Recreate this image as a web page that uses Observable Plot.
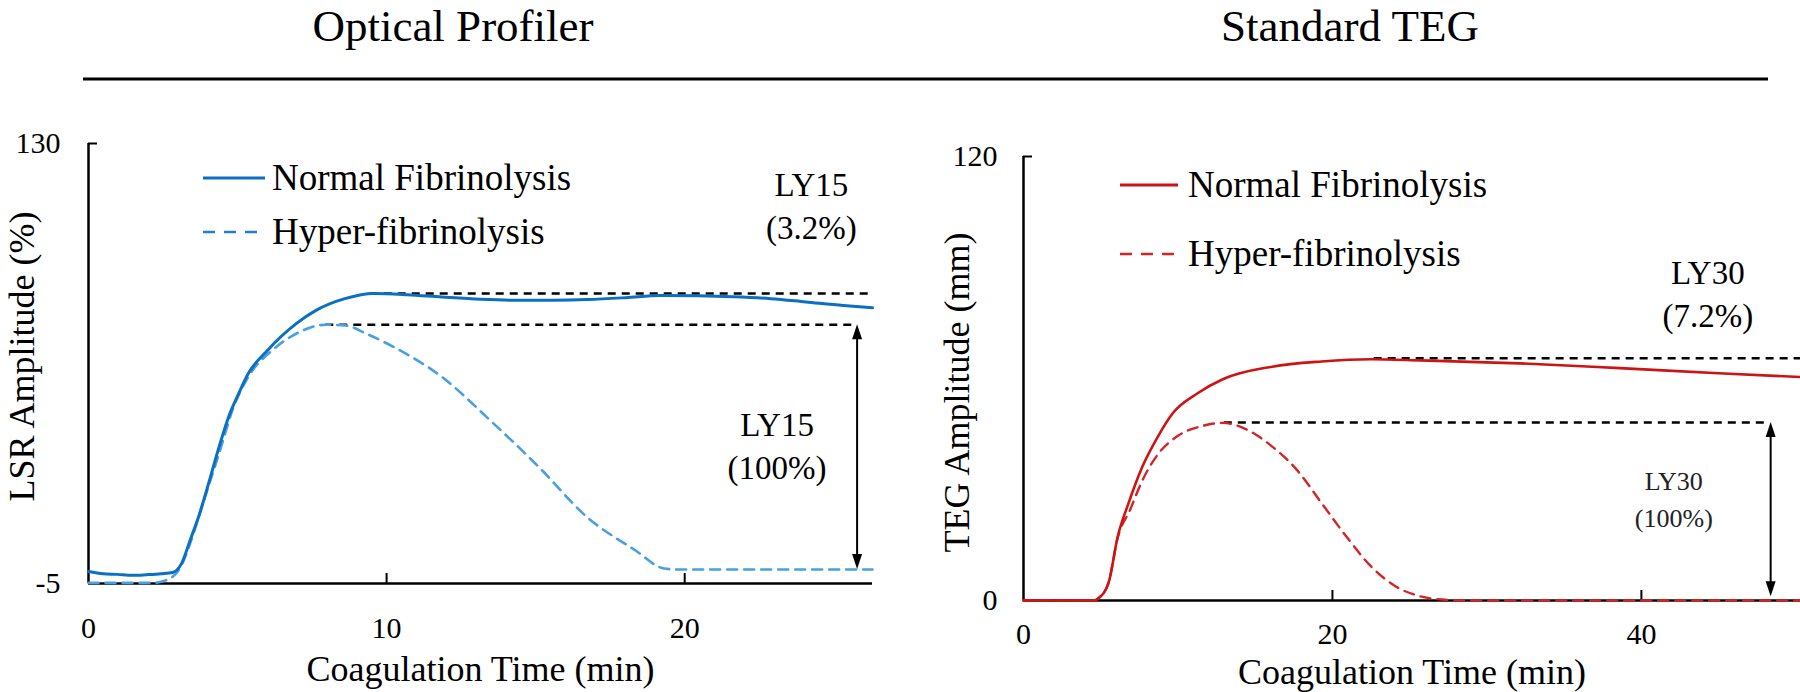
<!DOCTYPE html>
<html><head><meta charset="utf-8">
<script src="https://cdn.jsdelivr.net/npm/d3@7"></script>
<script src="https://cdn.jsdelivr.net/npm/@observablehq/plot@0.6"></script>
<style>
html,body{margin:0;padding:0;background:#fff;}
#root{position:relative;width:1800px;height:692px;overflow:hidden;font-family:"Liberation Serif","Times New Roman",serif;}
#root > svg{position:absolute;top:0;}
</style></head><body><div id="root"></div>
<script>
// ---------- text ----------
const panelTitles = ["Optical Profiler", "Standard TEG"];
const xLabel = "Coagulation Time (min)";
const opYLabel = "LSR Amplitude (%)";
const tegYLabel = "TEG Amplitude (mm)";
const seriesNames = ["Normal Fibrinolysis", "Hyper-fibrinolysis"];

// ---------- axes ----------
const opXDomain = [0, 26.3], opYDomain = [-5, 130];
const opXTicks = [0, 10, 20], opYTicks = [-5, 130];
const tegXDomain = [0, 50.3], tegYDomain = [0, 120];
const tegXTicks = [0, 20, 40], tegYTicks = [0, 120];

// ---------- Optical profiler (LSR amplitude, %) ----------
const opNormalT = [0, 0.49, 0.97, 1.46, 1.95, 2.44, 2.82, 3.12, 3.41, 3.73, 4.06, 4.38, 4.7, 5.04, 5.36, 6.01, 6.98, 7.63, 8.6, 9.57, 10.7, 11.85, 13.15, 14.29, 15.58, 16.75, 18.02, 19.19, 20.45, 21.62, 22.89, 24.06, 25.32, 26.3];
const opNormalV = [-1.3, -2.0, -2.2, -2.5, -2.3, -2.0, -1.6, 1.1, 8.3, 16.5, 26.7, 36.9, 46.1, 53.3, 59.4, 66.6, 74.8, 78.8, 82.4, 84, 83.6, 82.9, 82.2, 81.9, 81.9, 82.1, 82.7, 83.4, 83.3, 83, 82.4, 81.4, 80.3, 79.6];
const opHyperT = [0, 2.14, 2.6, 3.09, 3.41, 3.73, 4.38, 4.87, 5.36, 6.17, 6.98, 7.96, 8.6, 9.35, 10.23, 11.85, 13.47, 15.1, 16.72, 18.34, 19.31, 19.77, 26.3];
const opHyperV = [-4.8, -4.8, -4, 0.1, 7.3, 16.5, 34.9, 49.2, 58.4, 66.6, 71.7, 74.4, 74.2, 71.5, 67.6, 58.4, 45.1, 30.8, 15.4, 5.2, -0.4, -0.7, -0.7];
const opRefStart = [9.45, 7.96], opRefEnd = [26.3, 25.8], opRefLevel = [84, 74.4];
const opArrowT = [25.8], opArrowTop = [74.4], opArrowBottom = [-0.7];
const opNoteText = ["LY15\n(3.2%)", "LY15\n(100%)"], opNoteT = [24.25, 23.1], opNoteV = [111.5, 37.8];

// ---------- Standard TEG (amplitude, mm) ----------
const tegNormalT = [0, 4.6, 4.85, 5.5, 6.1, 6.8, 7.7, 8.7, 9.66, 11.27, 12.9, 16.1, 19.3, 22.5, 25.7, 32.1, 38.6, 45, 50.3];
const tegNormalV = [0, 0, 0.6, 4.7, 17.3, 26.3, 36.2, 44.3, 50.6, 56, 59.8, 63.2, 64.6, 65.2, 64.9, 64.1, 62.8, 61.4, 60.4];
const tegHyperT = [0, 4.6, 4.85, 5.5, 6.1, 6.9, 7.7, 8.7, 10, 11.6, 12.9, 14.5, 16.1, 17.7, 19.3, 20.9, 22.5, 24.1, 25.7, 27.3, 28.5, 50.3];
const tegHyperV = [0, 0, 0.6, 4.7, 17.0, 24.5, 32.5, 39.5, 44.5, 47.2, 48.0, 46.1, 41.6, 35.3, 26.3, 17.3, 9.2, 3.8, 1.1, 0.2, 0, 0];
const tegRefStart = [22.7, 13], tegRefEnd = [50.3, 48.3], tegRefLevel = [65.5, 48.1];
const tegArrowT = [48.4], tegArrowTop = [48.1], tegArrowBottom = [1];
const tegBigNoteText = ["LY30\n(7.2%)"], tegBigNoteT = [44.3], tegBigNoteV = [83.5];
const tegSmallNoteText = ["LY30\n(100%)"], tegSmallNoteT = [42.1], tegSmallNoteV = [28];

// ---------- helpers ----------
const pts = (T, V) => T.map((t, i) => ({t, v: V[i]}));
const refs = (S, E, L) => S.map((s, i) => ({t1: s, t2: E[i], v: L[i]}));
const notes = (S, T, V) => S.map((s, i) => ({label: s, t: T[i], v: V[i]}));
const arrows = (T, A, B) => T.map((t, i) => ({t, top: A[i], bottom: B[i]}));

function arrowMark(data) {
  return (index, scales) => {
    const g = d3.create("svg:g");
    for (const d of data) {
      const x = scales.x(d.t), y1 = scales.y(d.top), y2 = scales.y(d.bottom);
      const L = 15, W = 5;
      g.append("line").attr("x1", x).attr("x2", x).attr("y1", y1 + L - 2).attr("y2", y2 - L + 2)
        .attr("stroke", "black").attr("stroke-width", 2);
      g.append("path").attr("d", `M${x},${y1}L${x - W},${y1 + L}L${x + W},${y1 + L}Z`).attr("fill", "black");
      g.append("path").attr("d", `M${x},${y2}L${x - W},${y2 - L}L${x + W},${y2 - L}Z`).attr("fill", "black");
    }
    return g.node();
  };
}

const FONT = "Liberation Serif, Times New Roman, serif";
const baseStyle = {fontFamily: FONT, background: "transparent", overflow: "visible", color: "black"};

function axesMarks(xDomain, yDomain, xTicks, yTicks, xPad, yPad) {
  return [
    Plot.axisX({ticks: xTicks, tickSize: 0, tickPadding: xPad, fontSize: 30, label: null, tickFormat: d => String(d)}),
    Plot.axisY({ticks: yTicks, tickSize: 0, tickPadding: yPad, fontSize: 30, label: null, tickFormat: d => String(d)}),
    Plot.ruleX([xDomain[0]], {stroke: "black", strokeWidth: 2.5}),
    Plot.ruleY([yDomain[0]], {stroke: "black", strokeWidth: 2.5}),
    Plot.ruleX(xTicks.slice(1), {y1: yDomain[0], y2: yDomain[0], insetTop: -10, stroke: "black", strokeWidth: 2}),
    Plot.ruleY([yDomain[1]], {x1: xDomain[0], x2: xDomain[0], insetRight: -9, stroke: "black", strokeWidth: 2})
  ];
}

function labelMarks(yLabel, yDx, yDy, xDy) {
  return [
    Plot.text([yLabel], {frameAnchor: "left", dx: yDx, dy: yDy, rotate: -90, text: d => d,
      textAnchor: "middle", lineAnchor: "middle", fontSize: 36, fill: "black"}),
    Plot.text([xLabel], {frameAnchor: "bottom", dy: xDy, text: d => d,
      textAnchor: "middle", lineAnchor: "middle", fontSize: 36, fill: "black"})
  ];
}

// ---------- left panel ----------
const left = Plot.plot({
  width: 900, height: 692,
  marginLeft: 88, marginRight: 28, marginTop: 143, marginBottom: 109,
  x: {domain: opXDomain}, y: {domain: opYDomain},
  style: baseStyle,
  marks: [
    ...axesMarks(opXDomain, opYDomain, opXTicks, opYTicks, 33, 28),
    Plot.ruleY(refs(opRefStart, opRefEnd, opRefLevel), {y: "v", x1: "t1", x2: "t2", stroke: "black", strokeWidth: 2.5, strokeDasharray: "8,6"}),
    Plot.line(pts(opHyperT, opHyperV), {x: "t", y: "v", stroke: "#4a9fe0", strokeWidth: 2.6, strokeDasharray: "10,7", curve: "monotone-x"}),
    Plot.line(pts(opNormalT, opNormalV), {x: "t", y: "v", stroke: "#0b6fc2", strokeWidth: 3, curve: "monotone-x"}),
    arrowMark(arrows(opArrowT, opArrowTop, opArrowBottom)),
    Plot.text(notes(opNoteText, opNoteT, opNoteV), {x: "t", y: "v", text: "label", fontSize: 33, lineHeight: 1.3, fill: "black"}),
    ...labelMarks(opYLabel, -66, -7, 86)
  ]
});
left.style.left = "0px";

// ---------- right panel ----------
const right = Plot.plot({
  width: 900, height: 692,
  marginLeft: 123, marginRight: 0, marginTop: 156, marginBottom: 92,
  x: {domain: tegXDomain}, y: {domain: tegYDomain},
  style: baseStyle,
  marks: [
    ...axesMarks(tegXDomain, tegYDomain, tegXTicks, tegYTicks, 22, 26),
    Plot.ruleY(refs(tegRefStart, tegRefEnd, tegRefLevel), {y: "v", x1: "t1", x2: "t2", stroke: "black", strokeWidth: 2.5, strokeDasharray: "8,6"}),
    Plot.line(pts(tegHyperT, tegHyperV), {x: "t", y: "v", stroke: "#d42426", strokeWidth: 2.4, strokeDasharray: "10,7", curve: "monotone-x"}),
    Plot.line(pts(tegNormalT, tegNormalV), {x: "t", y: "v", stroke: "#cc1414", strokeWidth: 2.6, curve: "monotone-x"}),
    arrowMark(arrows(tegArrowT, tegArrowTop, tegArrowBottom)),
    Plot.text(notes(tegBigNoteText, tegBigNoteT, tegBigNoteV), {x: "t", y: "v", text: "label", fontSize: 33, lineHeight: 1.3, fill: "black"}),
    Plot.text(notes(tegSmallNoteText, tegSmallNoteT, tegSmallNoteV), {x: "t", y: "v", text: "label", fontSize: 26, lineHeight: 1.42, fill: "#222"}),
    ...labelMarks(tegYLabel, -66, 14, 72)
  ]
});
right.style.left = "900px";

const root = document.getElementById("root");
root.appendChild(left);
root.appendChild(right);

// ---------- titles, separator, legends ----------
const over = d3.create("svg").attr("width", 1800).attr("height", 692)
  .style("position", "absolute").style("left", "0px").style("top", "0px")
  .style("pointer-events", "none").style("font-family", FONT);

[[453, panelTitles[0]], [1350, panelTitles[1]]].forEach(([cx, t]) => {
  over.append("text").attr("x", cx).attr("y", 41).attr("text-anchor", "middle")
    .attr("font-size", 45).attr("fill", "black").text(t);
});
over.append("rect").attr("x", 83).attr("y", 77.5).attr("width", 1685).attr("height", 3).attr("fill", "black");

function legend(x0, x1, tx, rows, colors, fs) {
  seriesNames.forEach((name, i) => {
    const y = rows[i];
    over.append("line").attr("x1", x0).attr("x2", x1).attr("y1", y).attr("y2", y)
      .attr("stroke", colors[i]).attr("stroke-width", i ? 2.6 : 3)
      .attr("stroke-dasharray", i ? "12,9" : null);
    over.append("text").attr("x", tx).attr("y", y + 0.33 * fs).attr("font-size", fs)
      .attr("fill", "black").text(name);
  });
}
legend(203, 265, 272, [178, 232], ["#0b6fc2", "#1f7fd0"], 37);
legend(1120, 1178, 1188, [185, 254], ["#cc1414", "#d42426"], 37);

root.appendChild(over.node());
</script></body></html>
